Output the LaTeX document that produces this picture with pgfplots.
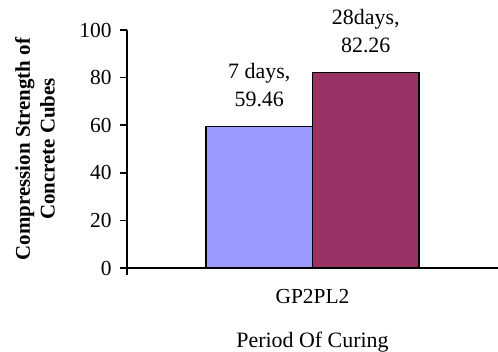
\documentclass[border=0pt]{standalone}
\usepackage{pgfplots}
\pgfplotsset{compat=1.18}
\usepackage{fontspec}
\setmainfont{Liberation Serif}
\definecolor{sevenday}{HTML}{9999FF}
\definecolor{twentyeightday}{HTML}{993366}
\begin{document}
\begin{tikzpicture}
\useasboundingbox (-127bp,-84bp) rectangle (371bp,268bp);
\begin{axis}[
  scale only axis, width=371bp, height=238bp,
  xmin=-1, xmax=1, ymin=0, ymax=100,
  axis x line*=bottom, axis y line*=left,
  axis line style={line width=1.8bp, black},
  tick style={line width=1.8bp, black},
  tick align=outside, major tick length=7bp,
  ytick={0,20,...,100},
  xtick={-1}, xticklabels={},
  extra x ticks={0}, extra x tick labels={GP2PL2},
  extra x tick style={major tick length=0pt},
  ticklabel style={font=\fontsize{21.5}{25}\selectfont},
  yticklabel style={xshift=-5bp},
  xticklabel style={yshift=-18bp},
  /pgf/number format/assume math mode=true,
  xlabel={Period Of Curing},
  xlabel style={at={(axis description cs:0.5,0)}, anchor=base, yshift=-79bp,
    font=\fontsize{22}{26}\selectfont},
  ylabel={Compression Strength of\\Concrete Cubes},
  ylabel style={at={(axis description cs:-0.248,0.5)}, anchor=center, align=center,
    font=\fontsize{21}{25}\selectfont\bfseries},
  ybar, bar width=106.5bp,
  every node near coord/.append style={align=center, anchor=south, inner sep=0pt,
    yshift=19bp, font=\fontsize{22}{28}\selectfont, black},
]
\addplot[fill=sevenday, draw=black, line width=1.3bp, bar shift=-53.25bp,
  nodes near coords={7 days,\\\pgfmathprintnumber[fixed,fixed zerofill,precision=2]{\pgfplotspointmeta}}]
  coordinates {(0,59.46)};
\addplot[fill=twentyeightday, draw=black, line width=1.3bp, bar shift=53.25bp,
  nodes near coords={28days,\\\pgfmathprintnumber[fixed,fixed zerofill,precision=2]{\pgfplotspointmeta}}]
  coordinates {(0,82.26)};
\end{axis}
\end{tikzpicture}
\end{document}
